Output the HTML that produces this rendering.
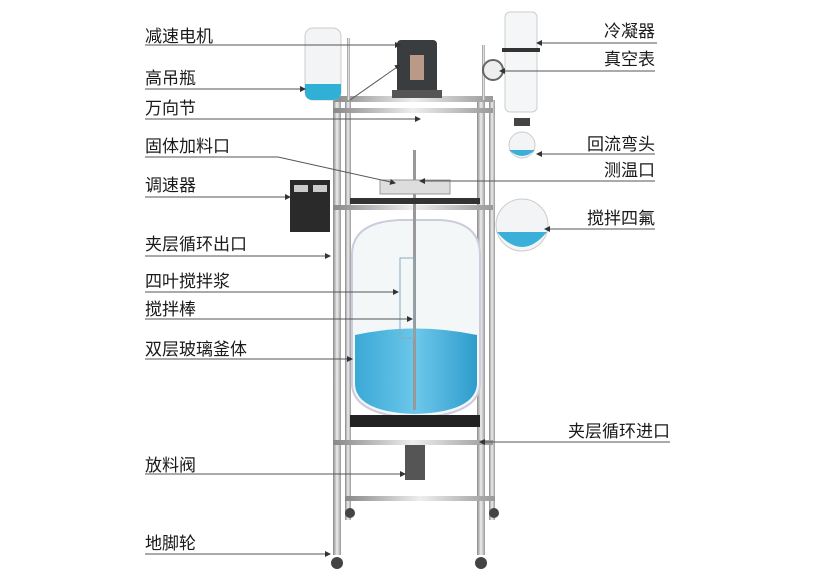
<!DOCTYPE html>
<html><head><meta charset="utf-8"><style>
html,body{margin:0;padding:0;background:#fff;width:837px;height:582px;overflow:hidden}
svg text{font-family:"Liberation Sans","Noto Sans CJK SC",sans-serif;font-size:17px;fill:#1a1a1a}
</style></head><body>
<svg width="837" height="582" viewBox="0 0 837 582" xmlns="http://www.w3.org/2000/svg">
<defs>
<linearGradient id="steel" x1="0" x2="1"><stop offset="0" stop-color="#888"/><stop offset=".5" stop-color="#eee"/><stop offset="1" stop-color="#999"/></linearGradient>
<linearGradient id="blue" x1="0" x2="1"><stop offset="0" stop-color="#3aa9d6"/><stop offset=".5" stop-color="#6cc7ea"/><stop offset="1" stop-color="#2f9ccc"/></linearGradient>
<marker id="ar" markerWidth="6" markerHeight="6" refX="5" refY="3" orient="auto"><path d="M0,0 L6,3 L0,6 Z" fill="#333"/></marker>
</defs>
<g fill="url(#steel)">
<rect x="333" y="100" width="8" height="455"/><rect x="345" y="100" width="6" height="420"/>
<rect x="477" y="100" width="8" height="455"/><rect x="489" y="100" width="6" height="420"/>
<rect x="333" y="96" width="160" height="6"/><rect x="333" y="108" width="160" height="5"/>
<rect x="333" y="205" width="160" height="5"/><rect x="333" y="440" width="160" height="5"/>
<rect x="345" y="496" width="150" height="5"/>
<rect x="347" y="38" width="3" height="62"/><rect x="482" y="45" width="3" height="55"/>
</g>
<g fill="#444"><circle cx="337" cy="563" r="6"/><circle cx="350" cy="513" r="5"/><circle cx="481" cy="563" r="6"/><circle cx="494" cy="513" r="5"/></g>
<rect x="397" y="40" width="40" height="55" rx="4" fill="#3a3d40"/>
<rect x="410" y="55" width="14" height="25" fill="#b98"/>
<rect x="392" y="90" width="50" height="8" fill="#555"/>
<path d="M352 255 Q352 222 400 220 L440 220 Q480 222 480 255 L480 385 Q478 415 415 418 Q354 415 352 385 Z" fill="#f4f7f8" stroke="#ccd" stroke-width="2"/>
<path d="M355 335 Q415 322 477 335 L477 385 Q474 412 415 414 Q357 412 355 385 Z" fill="url(#blue)"/>
<rect x="413" y="150" width="3" height="260" fill="#999"/>
<rect x="400" y="258" width="14" height="80" fill="none" stroke="#8ab" stroke-width="1"/>
<rect x="350" y="415" width="130" height="12" fill="#222"/>
<rect x="405" y="445" width="20" height="35" fill="#555"/>
<rect x="380" y="180" width="70" height="14" fill="#ddd" stroke="#999"/>
<rect x="350" y="198" width="130" height="6" fill="#333"/>
<rect x="290" y="180" width="40" height="52" fill="#2a2a2a"/>
<rect x="294" y="185" width="14" height="7" fill="#ccc"/><rect x="313" y="185" width="14" height="7" fill="#ccc"/>
<rect x="305" y="28" width="36" height="72" rx="8" fill="#f2f4f5" stroke="#ccc"/>
<path d="M305 84 L341 84 L341 92 Q341 100 333 100 L313 100 Q305 100 305 92 Z" fill="#2fb0d4"/>
<rect x="505" y="12" width="32" height="100" rx="5" fill="#f4f6f7" stroke="#ccc"/>
<rect x="502" y="48" width="38" height="4" fill="#333"/>
<circle cx="493" cy="70" r="10" fill="#eee" stroke="#666" stroke-width="2"/>
<rect x="514" y="118" width="16" height="8" fill="#444"/>
<circle cx="522" cy="145" r="13" fill="#f2f4f5" stroke="#ccc"/>
<path d="M509 150 Q522 162 535 150 Z" fill="#3ab0d8"/>
<circle cx="522" cy="225" r="26" fill="#f2f4f5" stroke="#ccc"/>
<path d="M497 232 Q522 262 547 232 Z" fill="#3ab0d8"/>
<g stroke="#555" stroke-width="1" fill="none" marker-end="url(#ar)">
<line x1="145" y1="45" x2="400" y2="45"/>
<line x1="145" y1="89" x2="305" y2="89"/>
<line x1="145" y1="119" x2="420" y2="119"/>
<line x1="350" y1="100" x2="400" y2="65"/>
<polyline points="145,157 278,157 395,183"/>
<line x1="145" y1="197" x2="290" y2="197"/>
<line x1="145" y1="256" x2="330" y2="256"/>
<line x1="145" y1="292" x2="398" y2="292"/>
<line x1="145" y1="319" x2="412" y2="319"/>
<line x1="145" y1="359" x2="352" y2="359"/>
<line x1="145" y1="474" x2="405" y2="474"/>
<line x1="145" y1="554" x2="330" y2="554"/>
<line x1="657" y1="43" x2="537" y2="43"/>
<line x1="655" y1="71" x2="500" y2="71"/>
<line x1="655" y1="154" x2="537" y2="154"/>
<line x1="655" y1="181" x2="420" y2="181"/>
<line x1="655" y1="229" x2="545" y2="229"/>
<line x1="670" y1="442" x2="480" y2="442"/>
</g>
<g>
<text x="145" y="42">减速电机</text>
<text x="145" y="84">高吊瓶</text>
<text x="145" y="114">万向节</text>
<text x="145" y="152">固体加料口</text>
<text x="145" y="191">调速器</text>
<text x="145" y="250">夹层循环出口</text>
<text x="145" y="287">四叶搅拌浆</text>
<text x="145" y="315">搅拌棒</text>
<text x="145" y="355">双层玻璃釜体</text>
<text x="145" y="471">放料阀</text>
<text x="145" y="549">地脚轮</text>
<text x="655" y="37" text-anchor="end">冷凝器</text>
<text x="655" y="65" text-anchor="end">真空表</text>
<text x="655" y="150" text-anchor="end">回流弯头</text>
<text x="655" y="176" text-anchor="end">测温口</text>
<text x="655" y="224" text-anchor="end">搅拌四氟</text>
<text x="670" y="437" text-anchor="end">夹层循环进口</text>
</g>
</svg>
</body></html>
